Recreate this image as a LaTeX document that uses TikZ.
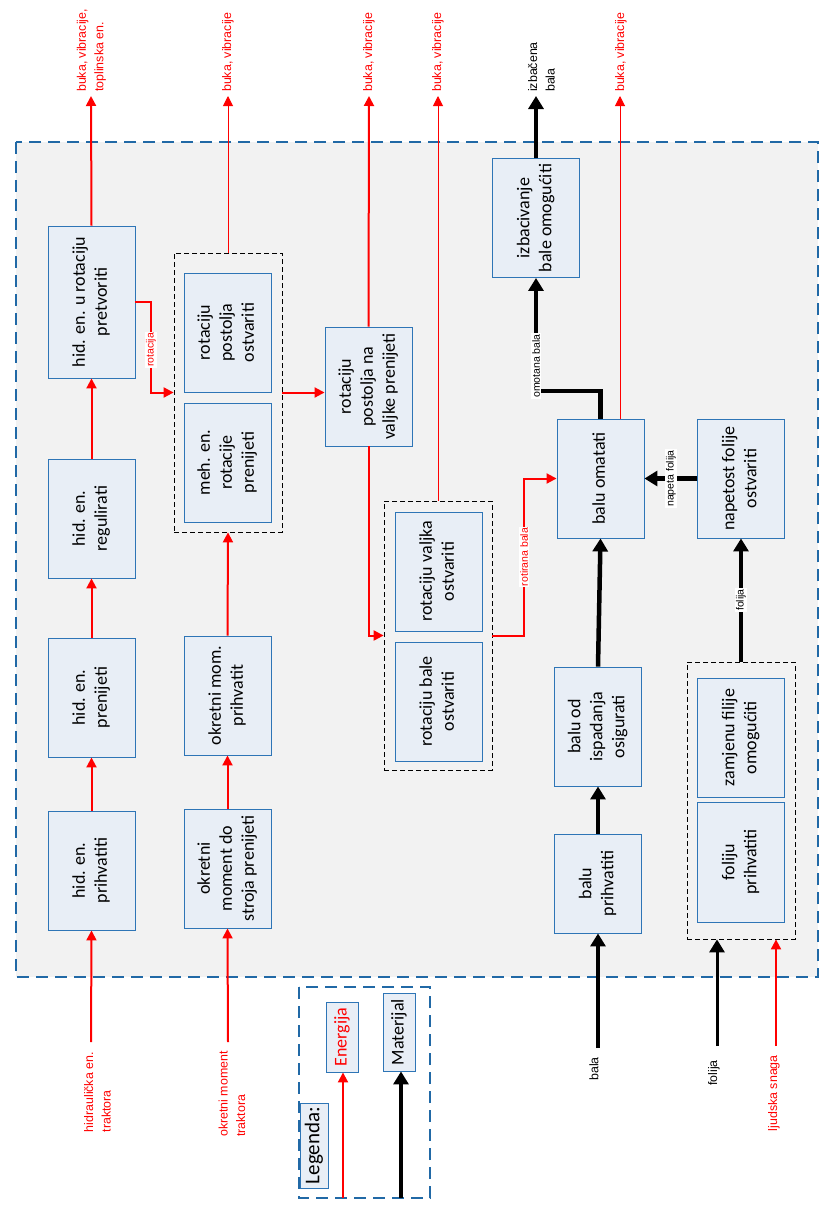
\documentclass[tikz,border=0pt]{standalone}
\usepackage{fontspec}
\setmainfont{Carlito}
\newfontfamily\arialf{Liberation Sans}
\usetikzlibrary{arrows.meta,calc}
\definecolor{ered}{HTML}{FF0000}
\definecolor{bblue}{HTML}{2E75B6}
\definecolor{obblue}{HTML}{2169A6}
\definecolor{bfill}{HTML}{E8EEF6}
\definecolor{bgrey}{HTML}{F2F2F2}
\newcommand\rtext[1]{\rotatebox{90}{\begin{tabular}{@{}c@{}}#1\end{tabular}}}
\begin{document}
\begin{tikzpicture}[x=1pt,y=-1pt,
  fbox/.style={draw=bblue, fill=bfill, line width=0.9pt, inner sep=0pt, minimum width=87pt, minimum height=119pt, font=\fontsize{18}{22}\selectfont},
  grp/.style={draw=black, dash pattern=on 5pt off 3pt, line width=0.8pt, inner sep=0pt, minimum width=108pt},
  outerb/.style={draw=obblue, dash pattern=on 12pt off 7pt, line width=1.8pt},
  energy/.style={draw=ered, line width=2pt, -{Triangle[length=10pt,width=10pt]}},
  energythin/.style={draw=ered, line width=1pt, -{Triangle[length=10pt,width=10pt]}},
  mat/.style={draw=black, line width=4.5pt, -{Triangle[length=13pt,width=15pt]}},
  matmid/.style={draw=black, line width=3pt, -{Triangle[length=13pt,width=15pt]}},
  lab/.style={font=\arialf\fontsize{12.4}{17.5}\selectfont, rotate=90, inner sep=0pt, align=left},
  clab/.style={font=\arialf\fontsize{10.5}{12}\selectfont, rotate=90, fill=white, inner sep=1pt},
  lbox/.style={draw=bblue, fill=bfill, line width=0.9pt, inner sep=0pt, font=\fontsize{18}{22}\selectfont}
]
\useasboundingbox (0,0) rectangle (831,1205);
% system boundary
\fill[bgrey] (16,142) rectangle (818,977);
\draw[outerb] (16,142) rectangle (818,977);

% groups
\node[grp, minimum height=279pt] (g1) at (228,392.5) {};
\node[grp, minimum height=269pt] (g2) at (438,635.5) {};
\node[grp, minimum height=277pt] (g3) at (741,800.5) {};

% column 1
\node[fbox, minimum height=152pt] (hA) at (91.5,302) {\rtext{hid. en. u rotaciju\\pretvoriti}};
\node[fbox] (hB) at (91.5,518.5) {\rtext{hid. en.\\regulirati}};
\node[fbox] (hC) at (91.5,697.5) {\rtext{hid. en.\\prenijeti}};
\node[fbox] (hD) at (91.5,870.5) {\rtext{hid. en.\\prihvatiti}};
% column 2
\node[fbox] (rA) at (227.5,332.5) {\rtext{rotaciju\\postolja\\ostvariti}};
\node[fbox] (rB) at (227.5,462.5) {\rtext{meh. en.\\rotacije\\prenijeti}};
\node[fbox] (oA) at (227.5,695.5) {\rtext{okretni mom.\\prihvatit}};
\node[fbox] (oB) at (227.5,868.5) {\rtext{okretni\\moment do\\stroja prenijeti}};
% column 3
\node[fbox] (pV) at (368.5,386.5) {\rtext{rotaciju\\postolja na\\valjke prenijeti}};
\node[fbox] (vA) at (438.5,571.5) {\rtext{rotaciju valjka\\ostvariti}};
\node[fbox] (vB) at (438.5,701.5) {\rtext{rotaciju bale\\ostvariti}};
% right part
\node[fbox] (iz) at (536,218) {\rtext{izbacivanje\\bale omogućiti}};
\node[fbox] (om) at (600.5,478.5) {\rtext{balu omatati}};
\node[fbox] (np) at (741,478.5) {\rtext{napetost folije\\ostvariti}};
\node[fbox] (bo) at (598,726.5) {\rtext{balu od\\ispadanja\\osigurati}};
\node[fbox, minimum height=99pt] (bp) at (598,883.5) {\rtext{balu\\prihvatiti}};
\node[fbox] (zf) at (741,737.5) {\rtext{zamjenu filije\\omogućiti}};
\node[fbox, minimum height=120pt] (fp) at (741,862) {\rtext{foliju\\prihvatiti}};

% outputs (top)
\coordinate (o1) at (91,96);
\coordinate (o2) at (228,96);
\coordinate (o3) at (369,96);
\coordinate (o4) at (438,96);
\coordinate (o5) at (620,96);
\coordinate (o6) at (536,96);
\node[lab, anchor=west, text=ered] at (91.5,92) {buka, vibracije,\\toplinska en.};
\node[lab, anchor=west, text=ered] at (228,92) {buka, vibracije};
\node[lab, anchor=west, text=ered] at (369,92) {buka, vibracije};
\node[lab, anchor=west, text=ered] at (438,92) {buka, vibracije};
\node[lab, anchor=west, text=ered] at (621,92) {buka, vibracije};
\node[lab, anchor=west] at (541.5,92) {izbačena\\bala};

% inputs (bottom)
\coordinate (i1) at (91,1042);
\coordinate (i2) at (228,1042);
\coordinate (i3) at (598,1048);
\coordinate (i4) at (717,1046);
\coordinate (i5) at (776,1046);
\node[lab, anchor=east, text=ered] at (97.5,1052) {hidraulička en.\\traktora};
\node[lab, anchor=east, text=ered] at (232,1051) {okretni moment\\traktora};
\node[lab, anchor=east] at (594,1057) {bala};
\node[lab, anchor=east] at (714,1060) {folija};
\node[lab, anchor=east, text=ered] at (774,1055) {ljudska snaga};

% energy flows
\draw[energy] (i1) -- (hD.south);
\draw[energy] (hD.north) -- (hC.south);
\draw[energy] (hC.north) -- (hB.south);
\draw[energy] (hB.north) -- (hA.south);
\draw[energy] (hA.north) -- (o1);
\draw[energy] (hA.east) -- (151,302) -- (151,392.5) -- (g1.west);
\node[clab, text=ered] at (151,350) {rotacija};
\draw[energy] (i2) -- (oB.south);
\draw[energy] (oB.north) -- (oA.south);
\draw[energy] (oA.north) -- (g1.south);
\draw[energythin] (g1.north) -- (o2);
\draw[energy] (g1.east) -- (g1.east -| pV.west);
\draw[energy] (pV.north) -- (o3);
\draw[energy] (pV.south) |- (g2.west);
\draw[energythin] (g2.north) -- (o4);
\draw[energy] (g2.east) -- (524,635.5) -- (524,478.5) -- (om.west);
\node[clab, text=ered] at (524,557) {rotirana bala};
\draw[energythin] (o5 |- om.north) -- (o5);
\draw[energy] (i5) -- (i5 |- g3.south);

% material flows
\draw[mat] (i3) -- (bp.south);
\draw[mat] (bp.north) -- (bo.south);
\draw[mat] (bo.north) -- (om.south);
\draw[mat] (np.west) -- (om.east);
\node[clab] at (671,478.5) {napeta folija};
\draw[mat] (om.north) -- (600.5,391) -- (536,391) -- (iz.south);
\node[clab] at (536,366) {omotana bala};
\draw[mat] (iz.north) -- (o6);
\draw[mat] (g3.north) -- (np.south);
\node[clab] at (741,600) {folija};
\draw[matmid] (i4) -- (i4 |- g3.south);

% legend
\draw[outerb] (299,987) rectangle (430,1198);
\node[lbox, minimum width=28pt, minimum height=85pt, font=\fontsize{21}{24}\selectfont] (lg) at (314,1145.5) {\rotatebox{90}{Legenda:}};
\node[lbox, minimum width=32pt, minimum height=70pt, text=ered] (le) at (342,1037) {\rotatebox{90}{Energija}};
\node[lbox, minimum width=32pt, minimum height=78pt] (lm) at (399,1032) {\rotatebox{90}{Materijal}};
\coordinate (le0) at (343,1198);
\coordinate (lm0) at (401,1198);
\draw[energy] (le0) -- (le0 |- le.south);
\draw[mat] (lm0) -- (lm0 |- lm.south);
\end{tikzpicture}
\end{document}
